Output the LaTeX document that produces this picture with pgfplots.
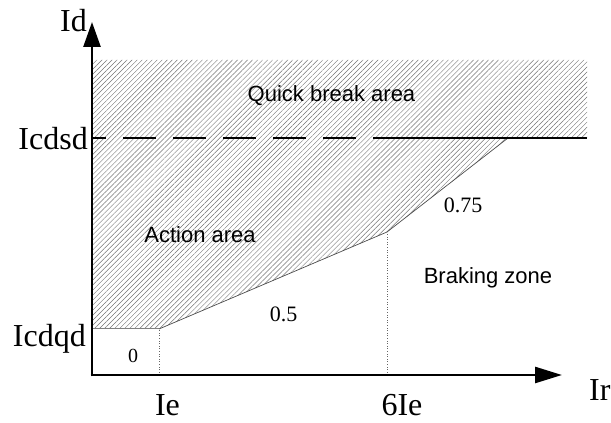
\documentclass[border=0pt]{standalone}
\usepackage{pgfplots}
\pgfplotsset{compat=1.18}
\usepackage{fontspec}
\setmainfont{Liberation Serif}
\newfontfamily\sansf{Liberation Sans}
\usetikzlibrary{arrows.meta,patterns.meta}
\begin{document}
\begin{tikzpicture}
\begin{axis}[
  x=1pt, y=1pt,
  xmin=-92, xmax=519, ymin=-48, ymax=375,
  hide axis, clip=false,
]
% bounding frame (invisible)
\addplot[draw=none] coordinates {(-92,-48) (519,375)};
% hatched area
\addplot[draw=none, pattern={Lines[angle=45,distance=3.55pt,line width=0.45pt]}, pattern color=black!55]
  coordinates {(0,46) (67,46) (295,143) (416,237) (495,237) (495,315) (0,315)} -- cycle;
% characteristic lower boundary
\addplot[black!50, line width=1pt] coordinates {(0,46) (67,46)};
\addplot[black!70, line width=0.7pt] coordinates {(67,46) (295,143) (416,237)};
% dotted verticals
\addplot[black!60, dotted, line width=0.6pt] coordinates {(67,0) (67,46)};
\addplot[black!60, dotted, line width=0.6pt] coordinates {(295,0) (295,143)};
% Icdsd line
\addplot[black, line width=1.8pt, dash pattern=on 33pt off 17pt, dash phase=19pt] coordinates {(0,237) (282,237)};
\addplot[black, line width=1.8pt] coordinates {(282,237) (495,237)};
% axes
\addplot[black, line width=2.6pt, -{Triangle[length=25pt,width=17pt]}] coordinates {(0,-1.3) (0,353)};
\addplot[black, line width=2.6pt, -{Triangle[length=27pt,width=16pt]}] coordinates {(-1.3,0) (470,0)};
% labels
\begin{scope}[every node/.style={inner sep=0pt}]
\node[anchor=base west, font=\fontsize{32}{36}\selectfont] at (axis cs:-32,343) {Id};
\node[anchor=base east, font=\fontsize{32}{36}\selectfont] at (axis cs:-4,225) {Icdsd};
\node[anchor=base east, font=\fontsize{32}{36}\selectfont] at (axis cs:-6,28) {Icdqd};
\node[anchor=base, font=\fontsize{32}{36}\selectfont] at (axis cs:75.5,-41) {Ie};
\node[anchor=base, font=\fontsize{32}{36}\selectfont] at (axis cs:310,-41) {6Ie};
\node[anchor=base west, font=\fontsize{32}{36}\selectfont] at (axis cs:497,-26) {Ir};
\node[anchor=base, font=\fontsize{20}{24}\selectfont] at (axis cs:41,12) {0};
\node[anchor=base, font=\fontsize{22}{26}\selectfont] at (axis cs:191.5,53) {0.5};
\node[anchor=base, font=\fontsize{22}{26}\selectfont] at (axis cs:371,162) {0.75};
\node[anchor=base, font=\sansf\fontsize{22}{26}\selectfont] at (axis cs:239.5,273) {Quick break area};
\node[anchor=base, font=\sansf\fontsize{22}{26}\selectfont] at (axis cs:108,132) {Action area};
\node[anchor=base, font=\sansf\fontsize{22}{26}\selectfont] at (axis cs:396,91) {Braking zone};
\end{scope}
\end{axis}
\end{tikzpicture}
\end{document}
